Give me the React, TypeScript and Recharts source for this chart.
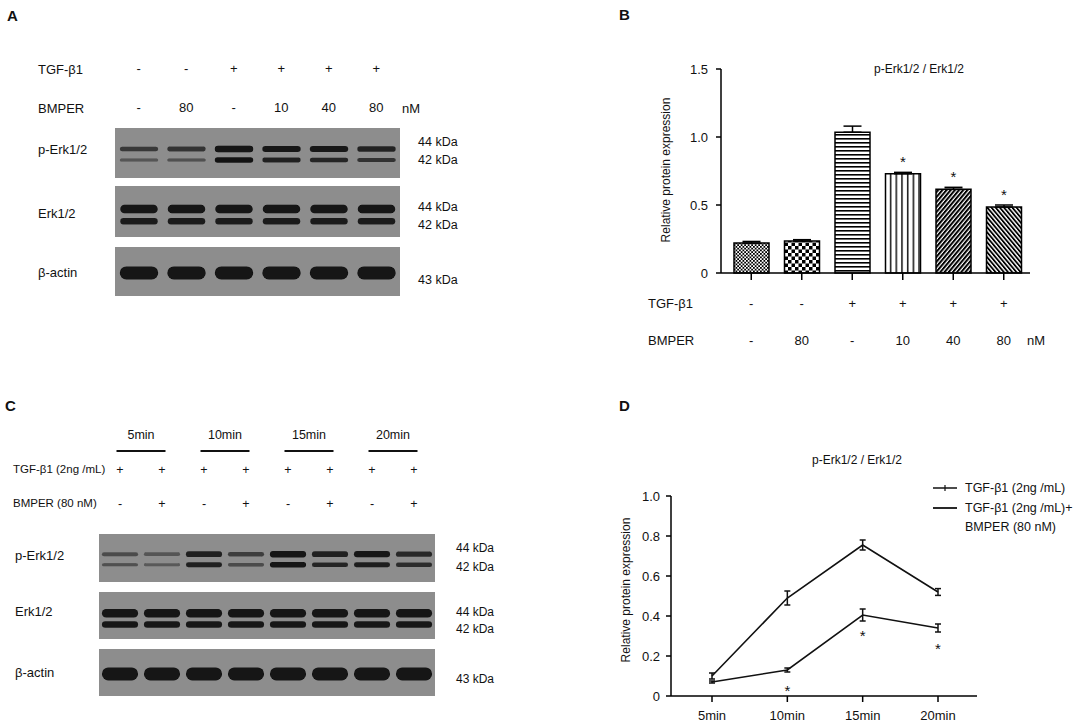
import React from "react";
import {
  BarChart,
  Bar,
  XAxis,
  YAxis,
  ErrorBar,
  LabelList,
  Cell,
  LineChart,
  Line,
} from "recharts";

const FONT = '"Liberation Sans", Arial, Helvetica, sans-serif';
const INK = "#111";

// ---- panel A: dose series blot
const A_LANES = ["a1", "a2", "a3", "a4", "a5", "a6"];
const A_TGF = ["-", "-", "+", "+", "+", "+"];
const A_BMPER = ["-", "80", "-", "10", "40", "80"];
const A_PERK44 = [0.55, 0.6, 1, 0.9, 0.88, 0.78];
const A_PERK42 = [0.25, 0.3, 0.95, 0.8, 0.75, 0.62];
const A_ERK44 = [1, 1, 1, 1, 1, 1];
const A_ERK42 = [0.85, 0.85, 0.85, 0.85, 0.85, 0.85];
const A_ACTIN = [1, 1, 1, 1, 1, 1];

// ---- panel B: quantification of A
const B_GROUPS = ["ctrl", "bmp80", "tgf", "tgf+10", "tgf+40", "tgf+80"];
const B_VALUES = [0.22, 0.235, 1.035, 0.73, 0.615, 0.485];
const B_ERR = [0.012, 0.01, 0.045, 0.01, 0.015, 0.015];
const B_STAR = ["", "", "", "*", "*", "*"];
const B_TICKS = [0, 0.5, 1, 1.5];

// ---- panel C: time course blot
const C_LANES = ["c1", "c2", "c3", "c4", "c5", "c6", "c7", "c8"];
const C_TIMES = ["5min", "10min", "15min", "20min"];
const C_TGF = ["+", "+", "+", "+", "+", "+", "+", "+"];
const C_BMPER = ["-", "+", "-", "+", "-", "+", "-", "+"];
const C_PERK44 = [0.35, 0.25, 0.8, 0.5, 1, 0.8, 0.9, 0.72];
const C_PERK42 = [0.3, 0.2, 0.8, 0.35, 1, 0.75, 0.82, 0.68];
const C_ERK44 = [1, 1, 1, 1, 1, 1, 1, 1];
const C_ERK42 = [0.9, 0.9, 0.9, 0.9, 0.9, 0.9, 0.9, 0.9];
const C_ACTIN = [1, 1, 1, 1, 1, 1, 1, 1];

// ---- panel D: quantification of C
const D_TIMES = ["5min", "10min", "15min", "20min"];
const D_TGF = [0.1, 0.49, 0.755, 0.52];
const D_TGF_ERR = [0.015, 0.035, 0.025, 0.017];
const D_BMP = [0.07, 0.13, 0.405, 0.34];
const D_BMP_ERR = [0.005, 0.01, 0.03, 0.02];
const D_STAR = ["", "*", "*", "*"];
const D_TICKS = [0, 0.2, 0.4, 0.6, 0.8, 1];

// band layout inside each blot strip (fraction of strip height, thickness px)
const PERK_SPEC = [
  { frac: 0.42, thick: 6.5 },
  { frac: 0.64, thick: 5.5 },
];
const ERK_SPEC = [
  { frac: 0.45, thick: 8.5 },
  { frac: 0.69, thick: 7 },
];
const ACTIN_SPEC = [{ frac: 0.53, thick: 13 }];

const yFmt = (v: number) => (v === 0 ? "0" : v.toFixed(1));

function Txt({ x, y, children, size = 13, anchor = "start", bold = false }: any) {
  const tx = anchor === "middle" ? "-50%" : anchor === "end" ? "-100%" : "0";
  return (
    <div
      style={{
        position: "absolute",
        left: x,
        top: y,
        transform: `translate(${tx}, -50%)`,
        fontSize: size,
        fontWeight: bold ? 700 : 400,
        whiteSpace: "nowrap",
        lineHeight: 1,
        color: INK,
      }}
    >
      {children}
    </div>
  );
}

function VLabel({ x, y, children }: any) {
  return (
    <div
      style={{
        position: "absolute",
        left: x,
        top: y,
        transform: "translate(-50%, -50%) rotate(-90deg)",
        fontSize: 12,
        whiteSpace: "nowrap",
        lineHeight: 1,
        color: INK,
      }}
    >
      {children}
    </div>
  );
}

function BlotLane(props: any) {
  const { x, y, width, height, payload, specs, bandRatio } = props;
  const bw = width * bandRatio;
  return (
    <g>
      <rect x={x - 0.5} y={y} width={width + 1} height={height} fill="#8d8d8d" />
      {specs.map((s: any, i: number) => {
        const v = payload.bands[i];
        const t = s.thick * (0.4 + 0.6 * v);
        return (
          <rect
            key={i}
            x={x + (width - bw) / 2}
            y={y + height * s.frac - t / 2}
            width={bw}
            height={t}
            rx={t / 2}
            fill="#121212"
            fillOpacity={0.3 + 0.7 * v}
            filter="url(#soft)"
          />
        );
      })}
    </g>
  );
}

function Blot({ left, top, width, height, lanes, bands, specs, bandRatio, headerHeight = 0, headerTick }: any) {
  const data = lanes.map((lane: string, i: number) => ({
    lane,
    full: 1,
    bands: bands.map((b: number[]) => b[i]),
  }));
  return (
    <div style={{ position: "absolute", left, top: top - headerHeight }}>
      <BarChart
        width={width}
        height={height + headerHeight}
        data={data}
        margin={{ top: 0, right: 0, bottom: 0, left: 0 }}
        barCategoryGap={0}
      >
        <defs>
          <filter id="soft" x="-10%" y="-50%" width="120%" height="200%">
            <feGaussianBlur stdDeviation="0.6" />
          </filter>
        </defs>
        <XAxis
          dataKey="lane"
          orientation="top"
          hide={!headerTick}
          height={headerHeight}
          axisLine={false}
          tickLine={false}
          tickSize={0}
          tickMargin={0}
          interval={0}
          tick={headerTick}
        />
        <YAxis hide domain={[0, 1]} />
        <Bar
          dataKey="full"
          isAnimationActive={false}
          shape={(p: any) => <BlotLane {...p} specs={specs} bandRatio={bandRatio} />}
        />
      </BarChart>
    </div>
  );
}

function HeaderTickA({ x, y, payload }: any) {
  const i = A_LANES.indexOf(payload.value);
  return (
    <g fontFamily={FONT} fontSize={13} textAnchor="middle">
      <text x={x} y={y - 55} fill={INK}>{A_TGF[i]}</text>
      <text x={x} y={y - 16} fill={INK}>{A_BMPER[i]}</text>
    </g>
  );
}

const C_STEP = 336 / C_LANES.length;

function HeaderTickC({ x, y, payload }: any) {
  const i = C_LANES.indexOf(payload.value);
  const mid = x + C_STEP / 2;
  return (
    <g fontFamily={FONT} fontSize={12.5} textAnchor="middle">
      {i % 2 === 0 && (
        <>
          <text x={mid} y={y - 95} fill={INK}>{C_TIMES[i / 2]}</text>
          <line x1={mid - 24.5} x2={mid + 24.5} y1={y - 83} y2={y - 83} stroke={INK} strokeWidth={2} />
        </>
      )}
      <text x={x} y={y - 60} fill={INK}>{C_TGF[i]}</text>
      <text x={x} y={y - 26} fill={INK}>{C_BMPER[i]}</text>
    </g>
  );
}

function BTick({ x, y, payload }: any) {
  const i = B_GROUPS.indexOf(payload.value);
  return (
    <g fontFamily={FONT} fontSize={13} textAnchor="middle">
      <text x={x} y={y + 28} fill={INK}>{A_TGF[i]}</text>
      <text x={x} y={y + 65} fill={INK}>{A_BMPER[i]}</text>
    </g>
  );
}

const PATTERNS = ["pChkFine", "pChkCoarse", "pHLines", "pVLines", "pDiagR", "pDiagL"];

function PanelB() {
  const data = B_GROUPS.map((g, i) => ({
    group: g,
    value: B_VALUES[i],
    err: [0, B_ERR[i]],
    star: B_STAR[i],
  }));
  return (
    <div style={{ position: "absolute", left: 620, top: 50 }}>
      <BarChart
        width={430}
        height={310}
        data={data}
        margin={{ top: 19, right: 20, bottom: 0, left: 61 }}
        barSize={35}
      >
        <defs>
          <pattern id="pChkFine" width="3.5" height="3.5" patternUnits="userSpaceOnUse">
            <rect width="3.5" height="3.5" fill="#fff" />
            <rect width="1.75" height="1.75" fill="#000" />
            <rect x="1.75" y="1.75" width="1.75" height="1.75" fill="#000" />
          </pattern>
          <pattern id="pChkCoarse" width="7" height="7" patternUnits="userSpaceOnUse">
            <rect width="7" height="7" fill="#fff" />
            <rect width="3.5" height="3.5" fill="#000" />
            <rect x="3.5" y="3.5" width="3.5" height="3.5" fill="#000" />
          </pattern>
          <pattern id="pHLines" width="4" height="4" patternUnits="userSpaceOnUse">
            <rect width="4" height="4" fill="#fff" />
            <rect width="4" height="1.6" fill="#000" />
          </pattern>
          <pattern id="pVLines" width="5.7" height="4" patternUnits="userSpaceOnUse">
            <rect width="5.7" height="4" fill="#fff" />
            <rect x="2" width="1.4" height="4" fill="#000" />
          </pattern>
          <pattern id="pDiagR" width="3.2" height="3.2" patternUnits="userSpaceOnUse" patternTransform="rotate(40)">
            <rect width="3.2" height="3.2" fill="#fff" />
            <rect width="2" height="3.2" fill="#000" />
          </pattern>
          <pattern id="pDiagL" width="3.2" height="3.2" patternUnits="userSpaceOnUse" patternTransform="rotate(-40)">
            <rect width="3.2" height="3.2" fill="#fff" />
            <rect width="1.8" height="3.2" fill="#000" />
          </pattern>
        </defs>
        <XAxis
          dataKey="group"
          height={87}
          padding={{ left: 5, right: 1 }}
          axisLine={{ stroke: "#000", strokeWidth: 1.5 }}
          tickLine={{ stroke: "#000", strokeWidth: 1.5 }}
          tickSize={7}
          tickMargin={0}
          interval={0}
          tick={<BTick />}
        />
        <YAxis
          width={40}
          domain={[0, 1.5]}
          ticks={B_TICKS}
          tickFormatter={yFmt}
          axisLine={{ stroke: "#000", strokeWidth: 1.5 }}
          tickLine={{ stroke: "#000", strokeWidth: 1.5 }}
          tickSize={5}
          tickMargin={8}
          tick={{ fill: INK, fontSize: 13, fontFamily: FONT }}
        />
        <Bar dataKey="value" stroke="#000" strokeWidth={1.5} isAnimationActive={false}>
          {data.map((d, i) => (
            <Cell key={d.group} fill={`url(#${PATTERNS[i]})`} />
          ))}
          <ErrorBar dataKey="err" width={9} stroke="#000" strokeWidth={1.5} direction="y" />
          <LabelList dataKey="star" position="top" offset={7} fontSize={15} fill={INK} stroke="none" fontFamily={FONT} />
        </Bar>
      </BarChart>
    </div>
  );
}

function PanelD() {
  const data = D_TIMES.map((t, i) => ({
    time: t,
    tgf: D_TGF[i],
    tgfErr: D_TGF_ERR[i],
    bmp: D_BMP[i],
    bmpErr: D_BMP_ERR[i],
    star: D_STAR[i],
  }));
  return (
    <div style={{ position: "absolute", left: 620, top: 440 }}>
      <LineChart
        width={380}
        height={287}
        data={data}
        margin={{ top: 56, right: 23, bottom: 0, left: 11 }}
      >
        <XAxis
          dataKey="time"
          height={31}
          padding={{ left: 41, right: 39 }}
          axisLine={{ stroke: "#000", strokeWidth: 1.5 }}
          tickLine={{ stroke: "#000", strokeWidth: 1.5 }}
          tickSize={6}
          tickMargin={9}
          interval={0}
          tick={{ fill: INK, fontSize: 13, fontFamily: FONT }}
        />
        <YAxis
          width={40}
          domain={[0, 1]}
          ticks={D_TICKS}
          tickFormatter={yFmt}
          axisLine={{ stroke: "#000", strokeWidth: 1.5 }}
          tickLine={{ stroke: "#000", strokeWidth: 1.5 }}
          tickSize={5}
          tickMargin={6}
          tick={{ fill: INK, fontSize: 13, fontFamily: FONT }}
        />
        <Line
          type="linear"
          dataKey="tgf"
          stroke={INK}
          strokeWidth={1.6}
          dot={false}
          isAnimationActive={false}
        >
          <ErrorBar dataKey="tgfErr" width={3} stroke={INK} strokeWidth={1.5} direction="y" />
        </Line>
        <Line
          type="linear"
          dataKey="bmp"
          stroke={INK}
          strokeWidth={1.6}
          dot={false}
          isAnimationActive={false}
        >
          <ErrorBar dataKey="bmpErr" width={3} stroke={INK} strokeWidth={1.5} direction="y" />
          <LabelList dataKey="star" position="bottom" offset={15} fontSize={15} fill={INK} stroke="none" fontFamily={FONT} />
        </Line>
      </LineChart>
    </div>
  );
}

export default function App() {
  return (
    <div
      style={{
        position: "absolute",
        left: 0,
        top: 0,
        width: 1084,
        height: 727,
        background: "#fff",
        fontFamily: FONT,
        overflow: "hidden",
      }}
    >
      {/* panel letters */}
      <Txt x={7} y={15} size={15} bold>A</Txt>
      <Txt x={619} y={14} size={15} bold>B</Txt>
      <Txt x={5} y={405} size={15} bold>C</Txt>
      <Txt x={619} y={405} size={15} bold>D</Txt>

      {/* panel A */}
      <Txt x={38} y={69}>TGF-β1</Txt>
      <Txt x={38} y={108}>BMPER</Txt>
      <Txt x={402} y={108}>nM</Txt>
      <Txt x={38} y={149}>p-Erk1/2</Txt>
      <Txt x={38} y={213}>Erk1/2</Txt>
      <Txt x={38} y={272}>β-actin</Txt>
      <Txt x={418} y={142} size={12.5}>44 kDa</Txt>
      <Txt x={418} y={160} size={12.5}>42 kDa</Txt>
      <Txt x={418} y={207} size={12.5}>44 kDa</Txt>
      <Txt x={418} y={225} size={12.5}>42 kDa</Txt>
      <Txt x={418} y={280} size={12.5}>43 kDa</Txt>
      <Blot
        left={115}
        top={128}
        width={285}
        height={50}
        lanes={A_LANES}
        bands={[A_PERK44, A_PERK42]}
        specs={PERK_SPEC}
        bandRatio={0.8}
        headerHeight={78}
        headerTick={<HeaderTickA />}
      />
      <Blot left={115} top={186} width={285} height={51} lanes={A_LANES} bands={[A_ERK44, A_ERK42]} specs={ERK_SPEC} bandRatio={0.78} />
      <Blot left={115} top={247} width={285} height={49} lanes={A_LANES} bands={[A_ACTIN]} specs={ACTIN_SPEC} bandRatio={0.8} />

      {/* panel B */}
      <Txt x={919} y={69} size={12} anchor="middle">p-Erk1/2 / Erk1/2</Txt>
      <VLabel x={666} y={170}>Relative protein expression</VLabel>
      <Txt x={648} y={303}>TGF-β1</Txt>
      <Txt x={648} y={340}>BMPER</Txt>
      <Txt x={1027} y={340}>nM</Txt>
      <PanelB />

      {/* panel C */}
      <Txt x={13} y={470} size={11.5}>TGF-β1 (2ng /mL)</Txt>
      <Txt x={13} y={504} size={11.5}>BMPER (80 nM)</Txt>
      <Txt x={15} y={555}>p-Erk1/2</Txt>
      <Txt x={15} y={611}>Erk1/2</Txt>
      <Txt x={15} y={672}>β-actin</Txt>
      <Txt x={456} y={548} size={12}>44 kDa</Txt>
      <Txt x={456} y={567} size={12}>42 kDa</Txt>
      <Txt x={456} y={612} size={12}>44 kDa</Txt>
      <Txt x={456} y={629} size={12}>42 kDa</Txt>
      <Txt x={456} y={679} size={12}>43 kDa</Txt>
      <Blot
        left={99}
        top={534}
        width={336}
        height={48}
        lanes={C_LANES}
        bands={[C_PERK44, C_PERK42]}
        specs={PERK_SPEC}
        bandRatio={0.86}
        headerHeight={114}
        headerTick={<HeaderTickC />}
      />
      <Blot left={99} top={592} width={336} height={47} lanes={C_LANES} bands={[C_ERK44, C_ERK42]} specs={ERK_SPEC} bandRatio={0.86} />
      <Blot left={99} top={649} width={336} height={47} lanes={C_LANES} bands={[C_ACTIN]} specs={ACTIN_SPEC} bandRatio={0.86} />

      {/* panel D */}
      <Txt x={857} y={460} size={12} anchor="middle">p-Erk1/2 / Erk1/2</Txt>
      <VLabel x={626} y={590}>Relative protein expression</VLabel>
      <svg style={{ position: "absolute", left: 930, top: 478 }} width={30} height={40}>
        <line x1={3} x2={27} y1={10} y2={10} stroke={INK} strokeWidth={1.5} />
        <line x1={15} x2={15} y1={7} y2={13} stroke={INK} strokeWidth={1.2} />
        <line x1={3} x2={27} y1={30} y2={30} stroke={INK} strokeWidth={1.8} />
      </svg>
      <Txt x={965} y={488} size={12.5}>TGF-β1 (2ng /mL)</Txt>
      <Txt x={965} y={508} size={12.5}>TGF-β1 (2ng /mL)+</Txt>
      <Txt x={965} y={527} size={12.5}>BMPER (80 nM)</Txt>
      <PanelD />
    </div>
  );
}
